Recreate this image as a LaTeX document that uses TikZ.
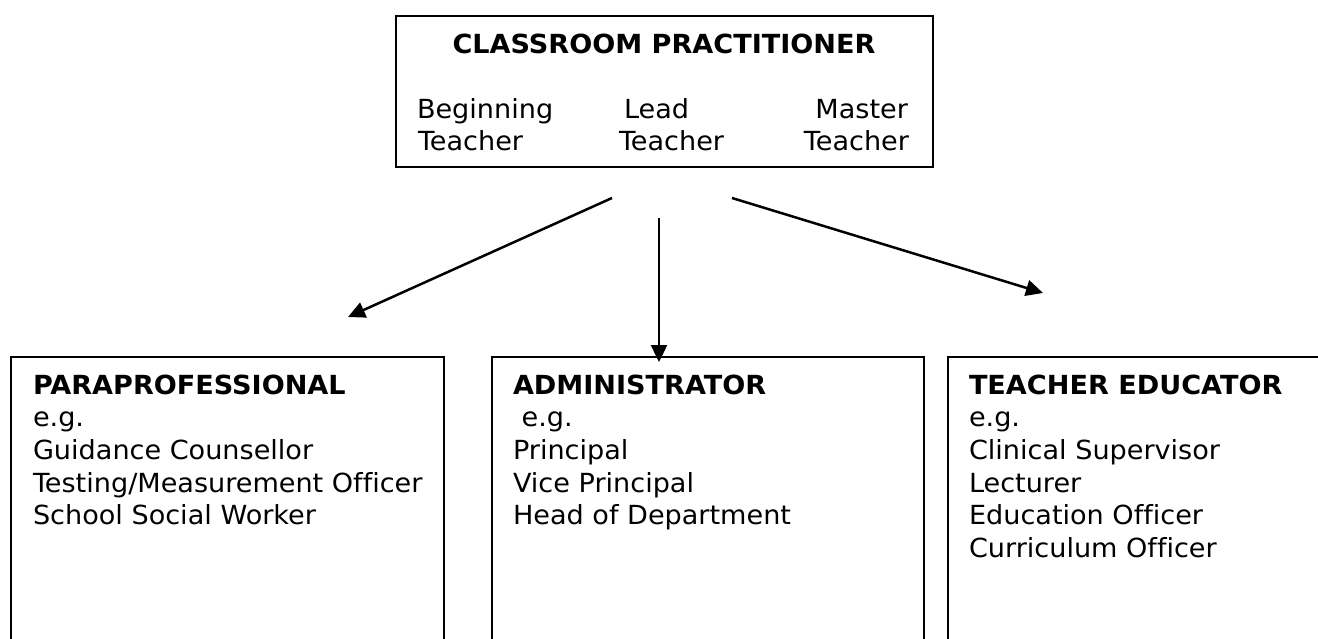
\documentclass[tikz,border=0pt]{standalone}
\usepackage{fontspec}
\setmainfont[FakeStretch=1.03,Ligatures={NoCommon}]{DejaVu Sans}
\usetikzlibrary{arrows.meta}
\tikzset{
  frame/.style={draw=black, line width=2pt},
  txt/.style={inner sep=0pt, outer sep=0pt, anchor=base west,
              font=\fontsize{26.3}{32}\selectfont},
  ttl/.style={txt, font=\fontsize{26.3}{32}\selectfont\bfseries},
  link/.style={line width=2.5pt, -{Triangle[length=17pt,width=16pt]}},
}
\begin{document}
\begin{tikzpicture}[x=1pt,y=-1pt]
\useasboundingbox (0,0) rectangle (1318,639);
% top box
\node[frame, minimum width=537pt, minimum height=151pt, inner sep=0pt] (cp) at (664.5,91.5) {};
\node[ttl, anchor=base] (cptitle) at (664,54) {CLASSROOM PRACTITIONER};
\node[txt] (beg1) at (417,119) {Beginning};
\node[txt] (beg2) at (418,151) {Teacher};
\node[txt] (lead1) at (624,119) {Lead};
\node[txt] (lead2) at (619,151) {Teacher};
\node[txt, anchor=base east] (mas1) at (908,119) {Master};
\node[txt, anchor=base east] (mas2) at (909,151) {Teacher};
% lower boxes (open at the bottom edge of the picture)
\draw[frame] (11,639) -- (11,357) -- (444,357) -- (444,639);
\draw[frame] (492,639) -- (492,357) -- (924,357) -- (924,639);
\draw[frame] (948,639) -- (948,357) -- (1318,357);
% paraprofessional
\node[ttl] (para) at (33,394) {PARAPROFESSIONAL};
\foreach \t [count=\i] in {e.g., Guidance Counsellor, Testing/Measurement Officer, School Social Worker}
  \node[txt] (para\i) at (33,{394+\i*32.7}) {\t};
% administrator
\node[ttl] (admin) at (513,394) {ADMINISTRATOR};
\foreach \t [count=\i] in {{\ e.g.}, Principal, Vice Principal, Head of Department}
  \node[txt] (admin\i) at (513,{394+\i*32.7}) {\t};
% teacher educator
\node[ttl] (ted) at (969,394) {TEACHER EDUCATOR};
\foreach \t [count=\i] in {e.g., Clinical Supervisor, Lecturer, Education Officer, Curriculum Officer}
  \node[txt] (ted\i) at (969,{394+\i*32.7}) {\t};
% connectors
\coordinate (sL) at (612,198);
\coordinate (tL) at (348,317);
\coordinate (sM) at (659,218);
\coordinate (tM) at (659,362);
\coordinate (sR) at (732,198);
\coordinate (tR) at (1043,293);
\draw[link] (sL) -- (tL);
\draw[link] (sM) -- (tM);
\draw[link] (sR) -- (tR);
\end{tikzpicture}
\end{document}
